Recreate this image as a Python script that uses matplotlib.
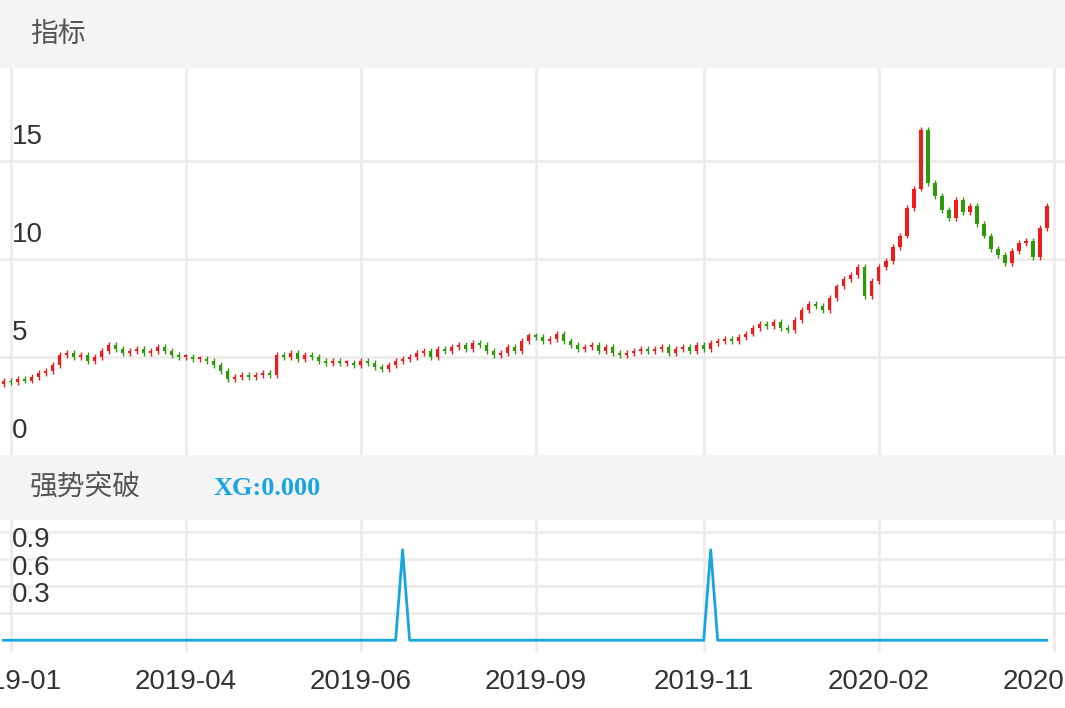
import numpy as np
import matplotlib as mpl
mpl.use('Agg')
import matplotlib.pyplot as plt
from matplotlib.transforms import blended_transform_factory

plt.rcParams['font.family'] = ['Liberation Sans', 'Noto Sans CJK SC', 'DejaVu Sans']

# daily closes
closes = [3.8, 3.7, 3.9, 3.8, 4.0, 4.2, 4.3, 4.6, 5.1,
          5.2, 5.0, 5.1, 4.8, 5.0, 5.3, 5.6,
          5.4, 5.2, 5.3, 5.4, 5.2, 5.3,
          5.5, 5.3, 5.1, 5.0, 5.0, 4.9, 4.9,
          4.8, 4.6, 4.3, 3.9, 4.0, 4.1,
          4.0, 4.1, 4.2, 4.1, 5.1,
          5.0, 5.2, 4.9, 5.1, 5.0, 4.8, 4.7, 4.8,
          4.7, 4.7, 4.6, 4.8, 4.7, 4.5, 4.4, 4.6,
          4.8, 4.9, 5.0, 5.2, 5.3, 5.0, 5.4,
          5.3, 5.5, 5.6, 5.4, 5.7, 5.6,
          5.3, 5.1, 5.2, 5.5, 5.3,
          5.8, 6.1, 6.0, 5.8, 5.9,
          6.2, 5.8, 5.6, 5.4, 5.5,
          5.6, 5.3, 5.5, 5.2, 5.1, 5.2,
          5.3, 5.4, 5.3, 5.4, 5.5, 5.2, 5.4,
          5.5, 5.3, 5.6, 5.4, 5.7, 5.8,
          5.9, 5.8, 6.0, 6.2, 6.5, 6.7,
          6.6, 6.8, 6.5, 6.4, 6.9,
          7.4, 7.7, 7.6, 7.4, 8.0,
          8.6, 9.0, 9.2, 9.6,
          8.1, 8.9, 9.6,
          9.9, 10.6, 11.2, 12.6, 13.6,
          16.6, 13.9, 13.2,
          12.5, 12.1, 13.0, 12.4,
          12.7, 11.8, 11.2, 10.5,
          10.2, 9.8, 10.4, 10.8,
          10.9, 10.1, 11.6, 12.7]
first_open = 3.6
tick_pos = [1, 26, 51, 76, 100, 125, 150]
tick_labels = ['2019-01', '2019-04', '2019-06', '2019-09', '2019-11', '2020-02', '2020-05']
signal_days = [57, 101]

n = len(closes)
opens = [first_open] + closes[:-1]
xs = np.arange(n)
xg = np.zeros(n)
xg[signal_days] = 1.0

W, H = 1065, 708
fig = plt.figure(figsize=(W / 100, H / 100), dpi=100)

def rect(top, bottom):
    return [0, 1 - bottom / H, 1, (bottom - top) / H]

RED, GREEN, BLUE = '#f01c1c', '#2e9a08', '#18a6e0'
GRID = '#ececec'
XLIM = (-0.5, 151.6)

# header bands
for top, bottom, title in [(0, 68, '指标'), (455, 520, '强势突破')]:
    hx = fig.add_axes(rect(top, bottom))
    hx.set_facecolor('#f4f4f4')
    hx.set_xticks([]); hx.set_yticks([])
    for s in hx.spines.values():
        s.set_visible(False)
    hx.text(30 / W, 0.5, title, fontsize=20, color='#555555', va='center',
            family=['Noto Sans CJK SC', 'DejaVu Sans'])
    if title == '强势突破':
        hx.text(213 / W, 0.48, 'XG:0.000', fontsize=19, color=BLUE, va='center',
                fontweight='bold', family='Liberation Serif')

# price panel
ax = fig.add_axes(rect(68, 455))
for o, c, x in zip(opens, closes, xs):
    col = RED if c >= o else GREEN
    lo, hi = min(o, c), max(o, c)
    ax.bar(x, max(hi - lo, 0.08), bottom=lo, width=0.5, color=col, zorder=3)
    ax.vlines(x, lo - 0.15, hi + 0.15, color=col, lw=1, zorder=3)
ax.set_xlim(*XLIM)
ax.set_ylim(0, 19.75)
for y in [5, 10, 15]:
    ax.axhline(y, color=GRID, lw=2, zorder=0)
for t in tick_pos:
    ax.axvline(t, color=GRID, lw=2, zorder=0)
tr = blended_transform_factory(ax.transAxes, ax.transData)
for y in [0, 5, 10, 15]:
    ax.text(12 / W, y + 0.55, str(y), transform=tr, fontsize=20, color='#333333', va='bottom')
ax.set_xticks([]); ax.set_yticks([])
for s in ax.spines.values():
    s.set_visible(False)

# signal panel
bx = fig.add_axes(rect(520, 652))
bx.plot(xs, xg, color=BLUE, lw=2, zorder=3)
bx.set_xlim(*XLIM)
bx.set_ylim(-0.13, 1.33)
for y in [0.3, 0.6, 0.9, 1.2]:
    bx.axhline(y, color=GRID, lw=2, zorder=0)
for t in tick_pos:
    bx.axvline(t, color=GRID, lw=2, zorder=0)
tr2 = blended_transform_factory(bx.transAxes, bx.transData)
for y in [0.3, 0.6, 0.9]:
    bx.text(12 / W, y + 0.06, '%.1f' % y, transform=tr2, fontsize=20, color='#333333', va='bottom')
bx.set_yticks([])
bx.set_xticks(tick_pos)
bx.set_xticklabels(tick_labels, fontsize=20, color='#333333')
bx.tick_params(axis='x', length=0, pad=12)
for s in bx.spines.values():
    s.set_visible(False)

fig.savefig('out.png', dpi=100)
